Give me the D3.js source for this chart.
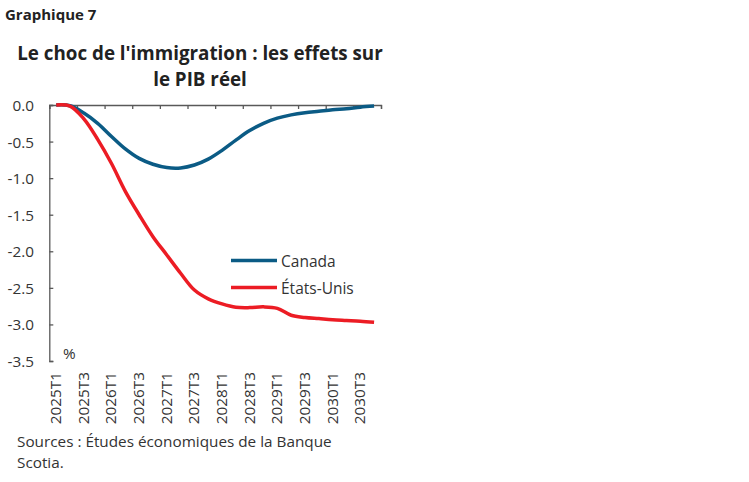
<!DOCTYPE html>
<html>
<head>
<meta charset="utf-8">
<script src="https://cdn.jsdelivr.net/npm/d3@7"></script>
<style>
  html, body { margin: 0; padding: 0; background: #fff; }
  svg { display: block; }
  text { font-family: "Open Sans", "Noto Sans", sans-serif; fill: #222; }
</style>
</head>
<body>
<svg id="chart" width="749" height="482"></svg>
<script>
const quarters = [
  "2025T1","2025T2","2025T3","2025T4","2026T1","2026T2","2026T3","2026T4",
  "2027T1","2027T2","2027T3","2027T4","2028T1","2028T2","2028T3","2028T4",
  "2029T1","2029T2","2029T3","2029T4","2030T1","2030T2","2030T3","2030T4"
];
const canada = [0, -0.01, -0.11, -0.25, -0.43, -0.60, -0.73, -0.81, -0.855, -0.86, -0.82, -0.74,
  -0.62, -0.48, -0.35, -0.25, -0.18, -0.135, -0.105, -0.085, -0.065, -0.05, -0.03, -0.015];
const etatsUnis = [0, -0.015, -0.19, -0.47, -0.80, -1.18, -1.50, -1.80, -2.05, -2.30, -2.53, -2.65,
  -2.72, -2.765, -2.77, -2.76, -2.78, -2.875, -2.905, -2.92, -2.935, -2.945, -2.955, -2.97];
const yTicks = [0, -0.5, -1.0, -1.5, -2.0, -2.5, -3.0, -3.5];
const seriesNames = ["Canada", "États-Unis"];
const seriesColors = ["#0b5b85", "#ec1c24"];

const svg = d3.select("#chart");
const pLeft = 49.3, pRight = 381, pTop = 105, pBottom = 361;
const bodySize = "15.3px";

const x = d3.scaleLinear().domain([0, quarters.length]).range([pLeft, pRight]);
const y = d3.scaleLinear().domain([-3.5, 0]).range([pBottom, pTop]);

// Titles
svg.append("text").attr("x", 5).attr("y", 20)
  .style("font-weight", "bold").style("font-size", "15px").text("Graphique 7");
svg.append("text").attr("x", 200).attr("y", 60).attr("text-anchor", "middle")
  .style("font-weight", "bold").style("font-size", "18.8px")
  .text("Le choc de l'immigration : les effets sur");
svg.append("text").attr("x", 200).attr("y", 86).attr("text-anchor", "middle")
  .style("font-weight", "bold").style("font-size", "18.8px")
  .text("le PIB réel");

// Y axis
const yAxis = d3.axisRight(y).tickValues(yTicks).tickSize(4).tickFormat("");
const gy = svg.append("g").attr("transform", `translate(${pLeft},0)`).call(yAxis);
gy.select(".domain").attr("stroke", "#595959").attr("stroke-width", 1.3);
gy.selectAll(".tick line").attr("stroke", "#595959").attr("stroke-width", 1.3);

svg.append("g").selectAll("text").data(yTicks).join("text")
  .attr("x", 34).attr("y", d => y(d)).attr("text-anchor", "end")
  .attr("dominant-baseline", "central").style("font-size", bodySize).style("fill", "#333")
  .text(d => d3.format(".1f")(d).replace("−", "-"));

// X axis (at top, ticks pointing down)
const tickIdx = d3.range(0, quarters.length + 1, 2);
const xAxis = d3.axisBottom(x).tickValues(tickIdx).tickSize(4).tickFormat("");
const gx = svg.append("g").attr("transform", `translate(0,${pTop})`).call(xAxis);
gx.select(".domain").attr("stroke", "#595959").attr("stroke-width", 1.3);
gx.selectAll(".tick line").attr("stroke", "#595959").attr("stroke-width", 1.3);

// X labels at bottom, rotated
svg.append("g").selectAll("text")
  .data(quarters.map((q, i) => ({q, i})).filter(d => d.i % 2 === 0))
  .join("text")
  .attr("transform", d => `translate(${x(d.i + 0.5) - 1},372) rotate(-90)`)
  .attr("text-anchor", "end").attr("dominant-baseline", "central")
  .style("font-size", bodySize).style("fill", "#333")
  .text(d => d.q);

// % label
svg.append("text").attr("x", 63).attr("y", 353).attr("dominant-baseline", "central")
  .style("font-size", bodySize).style("fill", "#333").text("%");

// Lines
const line = d3.line()
  .x((d, i) => x(i + 0.5))
  .y(d => y(d))
  .curve(d3.curveCatmullRom.alpha(0.5));

[canada, etatsUnis].forEach((s, k) => {
  svg.append("path").datum(s)
    .attr("fill", "none").attr("stroke", seriesColors[k])
    .attr("stroke-width", 3.5).attr("stroke-linejoin", "round")
    .attr("d", line);
});

// Legend
const legY = [260.5, 287.5];
seriesNames.forEach((n, k) => {
  svg.append("line").attr("x1", 231).attr("x2", 277)
    .attr("y1", legY[k]).attr("y2", legY[k])
    .attr("stroke", seriesColors[k]).attr("stroke-width", 3.5);
  svg.append("text").attr("x", 281).attr("y", legY[k]).attr("dominant-baseline", "central")
    .style("font-size", "15.5px").style("fill", "#333").text(n);
});

// Source
svg.append("text").attr("x", 17).attr("y", 447).style("font-size", bodySize).style("fill", "#333")
  .text("Sources : Études économiques de la Banque");
svg.append("text").attr("x", 17).attr("y", 468).style("font-size", bodySize).style("fill", "#333")
  .text("Scotia.");
</script>
</body>
</html>
